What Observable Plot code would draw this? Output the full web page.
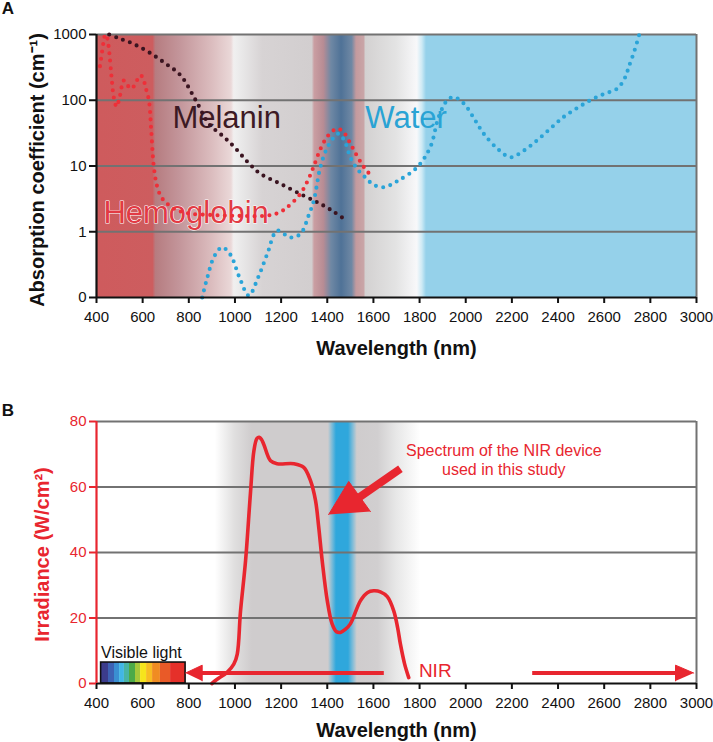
<!DOCTYPE html>
<html><head><meta charset="utf-8">
<script src="https://cdn.jsdelivr.net/npm/d3@7"></script>
<script src="https://cdn.jsdelivr.net/npm/@observablehq/plot@0.6"></script>
<style>
body{margin:0;background:#fff;}
#chart{width:713px;height:742px;position:relative;}
#chart svg{display:block;}
</style></head><body><div id="chart"></div>
<script>
// ---------- shared ----------
const xTicks = [400,600,800,1000,1200,1400,1600,1800,2000,2200,2400,2600,2800,3000];
const xDomain = [400,3000];
const xTitle = "Wavelength (nm)";

// ---------- panel A data ----------
const yTicksA = [0.1,1,10,100,1000];
const yTickLabelsA = ["0","1","10","100","1000"];
const gridA = [1,10,100,1000];
const yTitleA = "Absorption coefficient (cm\u207B\u00B9)";
const melanin = [[455,1000],[500,870],[560,720],[630,530],[700,360],[764,240],[830,100],[887,44],[950,28],[1000,19],[1060,11],[1111,7.6],[1200,5.3],[1300,3.5],[1370,2.66],[1430,2.0],[1480,1.5]];
const hemoglobin = [[415,330],[422,480],[430,750],[438,1000],[446,900],[455,550],[465,230],[475,110],[487,80],[500,110],[518,200],[532,175],[547,150],[560,160],[575,200],[591,240],[603,210],[612,160],[627,100],[637,35],[648,10],[662,5],[680,3.4],[700,2.8],[740,2.2],[800,1.9],[900,1.8],[1000,1.75],[1139,1.76],[1190,1.95],[1226,2.35],[1284,3.8],[1320,6.5],[1342,10],[1370,18],[1400,28],[1428,35],[1445,37],[1470,33],[1500,22],[1530,14],[1560,9.5],[1595,6.8]];
const water = [[858,0.1],[880,0.2],[910,0.42],[944,0.58],[980,0.45],[1020,0.2],[1060,0.107],[1100,0.2],[1140,0.46],[1183,1.04],[1240,0.82],[1284,0.93],[1320,1.8],[1342,3],[1370,9.6],[1400,19],[1428,27],[1450,31],[1475,24],[1500,13.6],[1530,9],[1565,6.7],[1600,5.2],[1645,4.75],[1700,5.8],[1790,9.6],[1847,19.6],[1883,56],[1920,100],[1948,112],[1992,89],[2040,50],[2078,31],[2140,18],[2194,13.6],[2250,17],[2309,24.5],[2370,38],[2425,56],[2480,75],[2540,100],[2600,125],[2656,150],[2690,220],[2707,325],[2730,550],[2752,1000]];
const seriesLabelsA = [
  {name:"Melanin", x:729, y:53, color:"#3d1a24"},
  {name:"Water", x:1565, y:53, color:"#2aa3d4"},
  {name:"Hemoglobin", x:430, y:1.89, color:"#e23a44"}
];
const bgStopsA = [[400,"#d36466"],[415,"#ce5b5d"],[645,"#cd5d5f"],[652,"#c06f73"],[657,"#b67c80"],[760,"#c3959a"],[900,"#dbbcbe"],[985,"#ead8d8"],[995,"#f1eded"],[1002,"#efefef"],[1120,"#d7d3d4"],[1335,"#d2cecf"],[1345,"#ca9ea2"],[1385,"#b88c94"],[1418,"#6f88a4"],[1462,"#4f7297"],[1508,"#6f88a4"],[1527,"#c49a9e"],[1560,"#c9a5a7"],[1567,"#d3d1d1"],[1700,"#e3e3e3"],[1790,"#f8f8fa"],[1812,"#cdeaf5"],[1830,"#95d1ea"],[3000,"#95d1ea"]];

// ---------- panel B data ----------
const yTicksB = [0,20,40,60,80];
const yTickLabelsB = ["0","20","40","60","80"];
const gridB = [20,40,60,80];
const yTitleB = "Irradiance (W/cm\u00B2)";
const irradiance = [[900,0],[923,1.3],[966,3.4],[995,5.9],[1010,9],[1024,22],[1046,37.5],[1067,58],[1082,71],[1095,74.8],[1105,75.2],[1115,74.5],[1125,73],[1154,68],[1183,67.1],[1255,67.1],[1298,66],[1327,62],[1349,55.9],[1363,47.7],[1378,37.5],[1400,25.3],[1421,18.2],[1440,15.8],[1457,15.6],[1478,16.5],[1500,18.2],[1544,25.3],[1575,27.8],[1601,28.3],[1630,28],[1660,26.5],[1688,22.2],[1705,17],[1717,12],[1735,6],[1753,1.8]];
const bgStopsB = [[400,"#ffffff"],[915,"#ffffff"],[1000,"#e0dfdf"],[1075,"#cfcccd"],[1405,"#cfcccd"],[1422,"#7fbcd8"],[1440,"#2fa7dc"],[1492,"#2fa7dc"],[1512,"#7fbcd8"],[1530,"#cfcccd"],[1620,"#d1cfd0"],[1700,"#e7e7e7"],[1805,"#ffffff"],[3000,"#ffffff"]];
const visibleEdges = [420,452,478,500,521,543,569,591,617,643,677,721,786];
const visibleColors = ["#3c3c8c","#3d62b4","#3a8fd2","#41b6e6","#48b4a4","#4caa48","#a6c83a","#f6e41c","#f8bc22","#f08c22","#e95a28","#e5302a"];
const visibleBox = {x1:420, x2:786, y1:0, y2:6.4};
const visibleLabel = {text:"Visible light", x:420, y:9.2};
const nirLabel = {text:"NIR", x:1797, y:3.7};
const noteLabel = {text:"Spectrum of the NIR device\nused in this study", x:2165, y:68.4};
const shafts = [
  {x1:1645, y1:3.2, x2:850, y2:3.2, w:4},
  {x1:2288, y1:3.2, x2:2915, y2:3.2, w:4},
  {x1:1717, y1:65.6, x2:1525, y2:56.2, w:8}
];
const heads = [
  {id:"nirLeft", pts:[[786,3.2],[858,5.6],[858,0.8]]},
  {id:"nirRight", pts:[[2988,3.2],[2909,5.6],[2909,0.8]]},
  {id:"note", pts:[[1406,51.6],[1493,61.7],[1587,52.5]]}
];

// ---------- helpers ----------
const FONT = '"Liberation Sans", Arial, Helvetica, sans-serif';
const RED = "#e8262f";
const GRID = "#727272";
const dotted = {strokeWidth:4.1, strokeDasharray:"0,7.4", strokeLinecap:"round", curve:"catmull-rom"};
const px = d => d[0], py = d => d[1];

function addGradient(svg, id, stops) {
  const sx = svg.scale("x");
  const xs = d3.scaleLinear(sx.domain, sx.range);
  const ns = "http://www.w3.org/2000/svg";
  const defs = document.createElementNS(ns, "defs");
  const lg = document.createElementNS(ns, "linearGradient");
  lg.setAttribute("id", id);
  lg.setAttribute("gradientUnits", "userSpaceOnUse");
  const a = xs(xDomain[0]), b = xs(xDomain[1]);
  lg.setAttribute("x1", a); lg.setAttribute("x2", b);
  lg.setAttribute("y1", 0); lg.setAttribute("y2", 0);
  for (const [nm, c] of stops) {
    const s = document.createElementNS(ns, "stop");
    s.setAttribute("offset", (xs(nm) - a) / (b - a));
    s.setAttribute("stop-color", c);
    lg.appendChild(s);
  }
  defs.appendChild(lg);
  svg.insertBefore(defs, svg.firstChild);
}

// ---------- panel A ----------
const plotA = Plot.plot({
  width:713, height:362, marginLeft:96, marginRight:17, marginTop:34, marginBottom:65,
  x:{domain:xDomain, axis:null},
  y:{type:"log", domain:[0.1,1000], axis:null},
  style:{fontFamily:FONT, background:"transparent", overflow:"visible"},
  marks:[
    Plot.rect([xDomain], {x1:d=>d[0], x2:d=>d[1], y1:()=>0.1, y2:()=>1000, fill:"url(#bgA)"}),
    Plot.ruleY(gridA, {y:d=>d, stroke:GRID, strokeWidth:2}),
    Plot.ruleX([3000], {x:d=>d, stroke:GRID, strokeWidth:2}),
    Plot.text(seriesLabelsA, {x:"x", y:"y", text:"name", fill:"color", fontSize:31, textAnchor:"start", lineAnchor:"middle", stroke:d=>d.name==="Hemoglobin"?"#ffffff":"none", strokeWidth:1.1, paintOrder:"stroke"}),
    Plot.line(melanin, {x:px, y:py, stroke:"#3a1420", ...dotted}),
    Plot.line(water, {x:px, y:py, stroke:"#2aa4d8", ...dotted}),
    Plot.line(hemoglobin, {x:px, y:py, stroke:"#ee2f38", ...dotted}),
    Plot.ruleY([0.1], {y:d=>d, stroke:"#111", strokeWidth:2.2}),
    Plot.ruleX([400], {x:d=>d, stroke:"#111", strokeWidth:2.2}),
    Plot.ruleX(xTicks, {x:d=>d, y1:()=>0.1, y2:()=>0.1, insetBottom:-6, stroke:"#111", strokeWidth:2}),
    Plot.ruleY(yTicksA, {y:d=>d, x1:()=>400, x2:()=>400, insetLeft:-7, stroke:"#111", strokeWidth:2}),
    Plot.text(xTicks, {x:d=>d, y:()=>0.1, text:d=>String(d), dy:14, lineAnchor:"top", fontSize:15, fill:"#111"}),
    Plot.text(yTicksA, {x:()=>400, y:d=>d, text:(d,i)=>yTickLabelsA[i], textAnchor:"end", dx:-10, fontSize:15, fill:"#111"}),
    Plot.text([yTitleA], {frameAnchor:"left", text:d=>d, rotate:-90, dx:-59, dy:4, fontSize:20, fontWeight:"bold", fill:"#111", textAnchor:"middle", lineAnchor:"middle"}),
    Plot.text([xTitle], {frameAnchor:"bottom", text:d=>d, dy:51, fontSize:20, fontWeight:"bold", fill:"#111", textAnchor:"middle", lineAnchor:"middle"}),
    Plot.text(["A"], {frameAnchor:"top-left", text:d=>d, dx:-88.5, dy:-26, fontSize:17, fontWeight:"bold", fill:"#111", textAnchor:"middle", lineAnchor:"middle"})
  ]
});
addGradient(plotA, "bgA", bgStopsA);

// ---------- panel B ----------
const visBands = visibleColors.map((c,i)=>({x1:visibleEdges[i], x2:visibleEdges[i+1], c}));
const headRows = heads.flatMap(h => h.pts.map(p => ({id:h.id, x:p[0], y:p[1]})));
const plotB = Plot.plot({
  width:713, height:380, marginLeft:96, marginRight:17, marginTop:59, marginBottom:59,
  x:{domain:xDomain, axis:null},
  y:{domain:[0,80], axis:null},
  style:{fontFamily:FONT, background:"transparent", overflow:"visible"},
  marks:[
    Plot.rect([xDomain], {x1:d=>d[0], x2:d=>d[1], y1:()=>0, y2:()=>80, fill:"url(#bgB)"}),
    Plot.ruleY(gridB, {y:d=>d, stroke:GRID, strokeWidth:2}),
    Plot.ruleX([3000], {x:d=>d, stroke:GRID, strokeWidth:2}),
    Plot.rect(visBands, {x1:"x1", x2:"x2", y1:()=>visibleBox.y1, y2:()=>visibleBox.y2, fill:"c"}),
    Plot.rect([visibleBox], {x1:"x1", x2:"x2", y1:"y1", y2:"y2", fill:"none", stroke:"#111", strokeWidth:1.6}),
    Plot.text([visibleLabel], {x:"x", y:"y", text:"text", textAnchor:"start", lineAnchor:"middle", fontSize:16, fill:"#111"}),
    Plot.text([nirLabel], {x:"x", y:"y", text:"text", textAnchor:"start", lineAnchor:"middle", fontSize:19, fill:RED}),
    Plot.text([noteLabel], {x:"x", y:"y", text:"text", textAnchor:"middle", lineAnchor:"middle", fontSize:16, lineHeight:1.21, fill:RED}),
    Plot.link(shafts, {x1:"x1", y1:"y1", x2:"x2", y2:"y2", strokeWidth:"w", stroke:RED}),
    Plot.line(headRows, {x:"x", y:"y", z:"id", fill:RED, stroke:RED, strokeWidth:1}),
    Plot.line(irradiance, {x:px, y:py, stroke:RED, strokeWidth:3.6, curve:"catmull-rom", strokeLinejoin:"round"}),
    Plot.ruleY([0], {y:d=>d, stroke:"#111", strokeWidth:2.2}),
    Plot.ruleX([400], {x:d=>d, stroke:RED, strokeWidth:2.2}),
    Plot.ruleX(xTicks, {x:d=>d, y1:()=>0, y2:()=>0, insetBottom:-6, stroke:"#111", strokeWidth:2}),
    Plot.ruleY(yTicksB, {y:d=>d, x1:()=>400, x2:()=>400, insetLeft:-7, stroke:RED, strokeWidth:2}),
    Plot.text(xTicks, {x:d=>d, y:()=>0, text:d=>String(d), dy:14, lineAnchor:"top", fontSize:15, fill:"#111"}),
    Plot.text(yTicksB, {x:()=>400, y:d=>d, text:(d,i)=>yTickLabelsB[i], textAnchor:"end", dx:-10, fontSize:15, fill:RED}),
    Plot.text([yTitleB], {frameAnchor:"left", text:d=>d, rotate:-90, dx:-54, dy:2, fontSize:20, fontWeight:"bold", fill:RED, textAnchor:"middle", lineAnchor:"middle"}),
    Plot.text([xTitle], {frameAnchor:"bottom", text:d=>d, dy:47, fontSize:20, fontWeight:"bold", fill:"#111", textAnchor:"middle", lineAnchor:"middle"}),
    Plot.text(["B"], {frameAnchor:"top-left", text:d=>d, dx:-88.5, dy:-11, fontSize:17, fontWeight:"bold", fill:"#111", textAnchor:"middle", lineAnchor:"middle"})
  ]
});
addGradient(plotB, "bgB", bgStopsB);

const root = document.getElementById("chart");
root.appendChild(plotA);
root.appendChild(plotB);
</script></body></html>
